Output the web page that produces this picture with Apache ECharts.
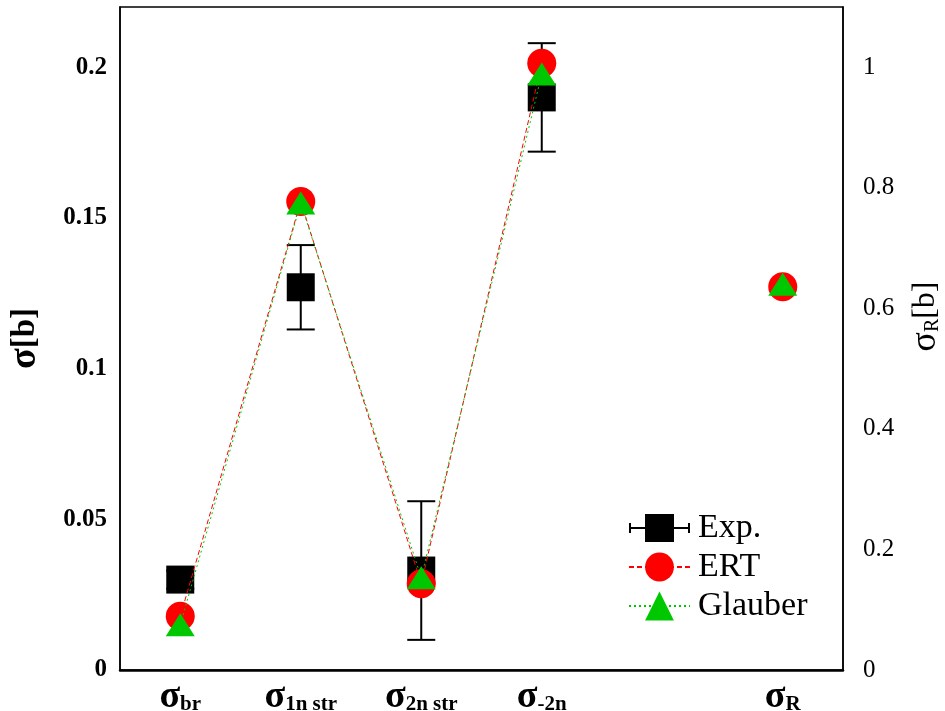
<!DOCTYPE html>
<html>
<head>
<meta charset="utf-8">
<script src="https://cdn.jsdelivr.net/npm/echarts@6/dist/echarts.min.js"></script>
<style>
  html, body { margin: 0; padding: 0; background: #fff; }
  #chart { width: 945px; height: 711px; }
</style>
</head>
<body>
<div id="chart"></div>
<script>
// x categories (subscripts of sigma); slot 4 is an empty gap before sigma_R
const categories = ['br', '1n str', '2n str', '-2n', ' ', 'R'];

// experiment, left axis [b]
const expValues = [0.030, 0.127, 0.033, 0.190];
const expErrors = [0.003, 0.014, 0.023, 0.018];

// calculations, left axis [b]
const ertValues = [0.0178, 0.1555, 0.0286, 0.2013];
const glauberValues = [0.015, 0.155, 0.0306, 0.1978];

// total reaction cross section, right axis [b]
const ertTotal = 0.636;
const glauberTotal = 0.640;

const FONT = "'Liberation Serif', 'DejaVu Serif', serif";

const myChart = echarts.init(document.getElementById('chart'));

const option = {
  animation: false,
  grid: {
    left: 120,
    right: 102,
    top: 7,
    bottom: 41,
    outerBoundsMode: 'none',
    containLabel: false,
    show: true,
    borderColor: '#000',
    borderWidth: 1.5,
  },
  legend: {
    orient: 'vertical',
    left: 623,
    top: 506,
    itemWidth: 61,
    itemHeight: 36,
    itemGap: 5,
    selectedMode: false,
    textStyle: {
      fontFamily: FONT,
      fontSize: 34,
      color: '#000',
      padding: [0, 0, 0, 3],
    },
    data: [
      { name: 'Exp.', icon: 'path://M0,17H61V19H0Z M0,13H2V23H0Z M59,13H61V23H59Z M16,4H45V32H16Z', itemStyle: { color: '#000' } },
      'ERT',
      'Glauber',
    ],
  },
  xAxis: {
    type: 'category',
    data: categories,
    boundaryGap: true,
    axisLine: { lineStyle: { color: '#000', width: 2.5 } },
    axisTick: {
      inside: true,
      length: 8,
      alignWithLabel: true,
      interval: function (i) { return i !== 4; },
      lineStyle: { color: '#000', width: 1.5 },
    },
    axisLabel: {
      interval: 0,
      margin: 9,
      formatter: function (v) {
        return v.trim() === '' ? '' : '{s|σ}{sub|' + v + '}';
      },
      rich: {
        s: { fontFamily: FONT, fontSize: 38, fontWeight: 'bold', color: '#000', lineHeight: 36 },
        sub: { fontFamily: FONT, fontSize: 21, fontWeight: 'bold', color: '#000', lineHeight: 12, verticalAlign: 'bottom' },
      },
    },
    splitLine: { show: false },
  },
  yAxis: [
    {
      type: 'value',
      position: 'left',
      min: 0,
      max: 0.22,
      interval: 0.05,
      name: '{s|σ}{b|[b]}',
      nameLocation: 'middle',
      nameGap: 76,
      nameMoveOverlap: false,
      nameTextStyle: {
        rich: {
          s: { fontFamily: FONT, fontSize: 38, fontWeight: 'bold', color: '#000' },
          b: { fontFamily: FONT, fontSize: 33, fontWeight: 'bold', color: '#000' },
        },
      },
      axisLine: { show: true, lineStyle: { color: '#000', width: 1.5 } },
      axisTick: { inside: true, length: 8, lineStyle: { color: '#000', width: 1.5 } },
      axisLabel: {
        showMaxLabel: false,
        margin: 13,
        fontFamily: FONT,
        fontSize: 25,
        fontWeight: 'bold',
        color: '#000',
      },
      splitLine: { show: false },
    },
    {
      type: 'value',
      position: 'right',
      min: 0,
      max: 1.1,
      interval: 0.2,
      name: '{s|σ}{sub|R}{b|[b]}',
      nameLocation: 'middle',
      nameGap: 66,
      nameMoveOverlap: false,
      nameTextStyle: {
        padding: [0, 0, 0, 44],
        rich: {
          s: { fontFamily: FONT, fontSize: 36, color: '#000', lineHeight: 34 },
          sub: { fontFamily: FONT, fontSize: 20, color: '#000', lineHeight: 12, verticalAlign: 'bottom' },
          b: { fontFamily: FONT, fontSize: 32, color: '#000', lineHeight: 34 },
        },
      },
      axisLine: { show: true, lineStyle: { color: '#000', width: 1.5 } },
      axisTick: { inside: true, length: 8, lineStyle: { color: '#000', width: 1.5 } },
      axisLabel: {
        showMaxLabel: false,
        margin: 20,
        fontFamily: FONT,
        fontSize: 25,
        color: '#000',
      },
      splitLine: { show: false },
    },
  ],
  series: [
    {
      name: 'Exp.',
      type: 'scatter',
      z: 2,
      symbol: 'rect',
      symbolSize: 28,
      itemStyle: { color: '#000', opacity: 1 },
      data: expValues.map(function (v, i) { return [i, v]; }),
    },
    {
      name: 'Exp.',
      type: 'custom',
      z: 1,
      itemStyle: { color: '#000' },
      renderItem: function (params, api) {
        const x = api.value(0);
        const lo = api.coord([x, api.value(1)]);
        const hi = api.coord([x, api.value(2)]);
        const half = 14;
        const style = { stroke: '#000', lineWidth: 2 };
        return {
          type: 'group',
          children: [
            { type: 'line', shape: { x1: lo[0], y1: lo[1], x2: hi[0], y2: hi[1] }, style: style },
            { type: 'line', shape: { x1: lo[0] - half, y1: lo[1], x2: lo[0] + half, y2: lo[1] }, style: style },
            { type: 'line', shape: { x1: hi[0] - half, y1: hi[1], x2: hi[0] + half, y2: hi[1] }, style: style },
          ],
        };
      },
      encode: { x: 0, y: [1, 2] },
      data: expValues.map(function (v, i) { return [i, v - expErrors[i], v + expErrors[i]]; }),
    },
    {
      name: 'ERT',
      type: 'line',
      z: 3,
      symbol: 'circle',
      symbolSize: 29,
      itemStyle: { color: '#ff0000', opacity: 1 },
      lineStyle: { color: '#ff0000', width: 1, type: [5, 3] },
      data: ertValues,
    },
    {
      name: 'ERT',
      type: 'scatter',
      yAxisIndex: 1,
      z: 3,
      symbol: 'circle',
      symbolSize: 29,
      itemStyle: { color: '#ff0000', opacity: 1 },
      data: [[5, ertTotal]],
    },
    {
      name: 'Glauber',
      type: 'line',
      z: 4,
      symbol: 'triangle',
      symbolSize: [29, 23],
      itemStyle: { color: '#00c800', opacity: 1 },
      lineStyle: { color: '#00c800', width: 1, type: [2, 3] },
      data: glauberValues,
    },
    {
      name: 'Glauber',
      type: 'scatter',
      yAxisIndex: 1,
      z: 4,
      symbol: 'triangle',
      symbolSize: [29, 23],
      itemStyle: { color: '#00c800', opacity: 1 },
      data: [[5, glauberTotal]],
    },
  ],
};

myChart.setOption(option);
</script>
</body>
</html>
